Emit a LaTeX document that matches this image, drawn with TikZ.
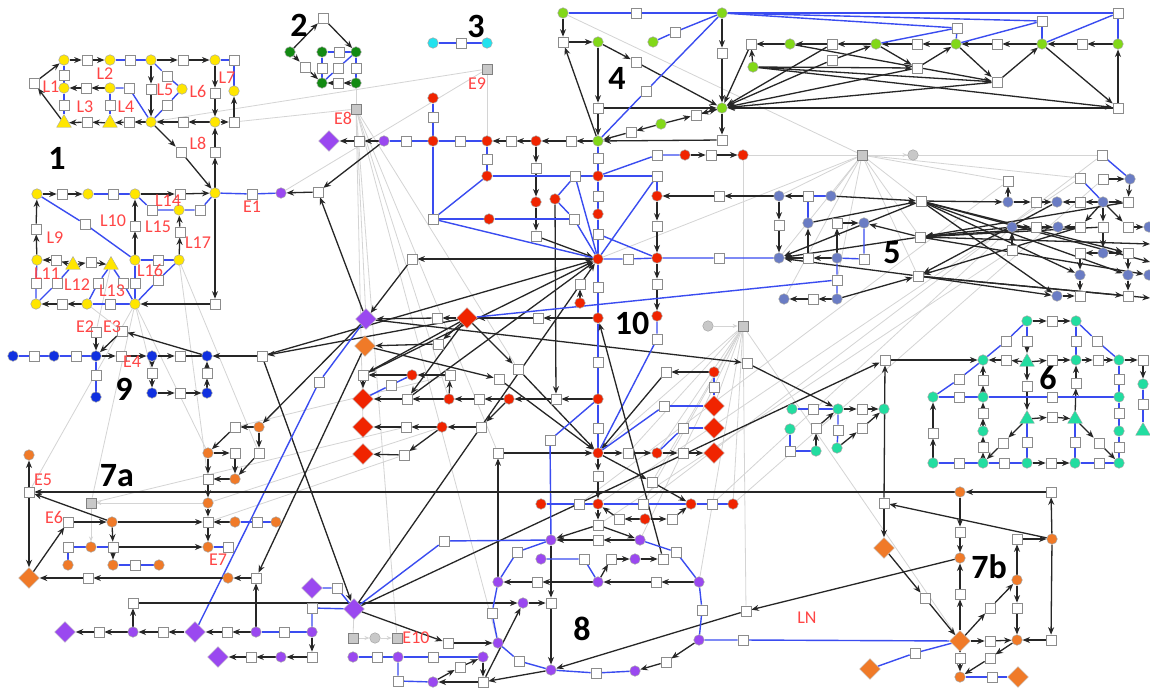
\documentclass[tikz,border=0pt]{standalone}
\usepackage{fontspec}
\setmainfont{Carlito}
\usetikzlibrary{arrows.meta,shapes.geometric}
\definecolor{yel}{HTML}{FFE600}
\definecolor{dgr}{HTML}{128A12}
\definecolor{cya}{HTML}{22E2EE}
\definecolor{lim}{HTML}{82D818}
\definecolor{rdc}{HTML}{F02400}
\definecolor{pur}{HTML}{9A48F0}
\definecolor{org}{HTML}{F07A28}
\definecolor{blu}{HTML}{1030E0}
\definecolor{slt}{HTML}{6A7CC4}
\definecolor{tea}{HTML}{22DDA0}
\definecolor{eblu}{HTML}{3A4CF0}
\definecolor{labred}{HTML}{FF4545}
\definecolor{gfill}{HTML}{C8C8C8}
\pgfdeclarelayer{back}\pgfdeclarelayer{gry}\pgfdeclarelayer{edg}
\pgfsetlayers{back,gry,edg,main}
\tikzset{
  sq/.style={rectangle,draw=black!45,fill=white,minimum size=10pt,inner sep=0pt,line width=0.7pt},
  gsq/.style={sq,fill=gfill,draw=black!50},
  cn/.style={circle,draw=black!35,minimum size=10.5pt,inner sep=0pt,line width=0.5pt},
  dm/.style={diamond,minimum size=21pt,inner sep=0pt,draw=black!25,line width=0.4pt},
  tri/.style={regular polygon,regular polygon sides=3,minimum size=17pt,inner sep=0pt,draw=black!35,line width=0.4pt},
  bl/.style={draw=eblu,line width=1.4pt},
  ar/.style={draw=black!85,line width=1.3pt,-{Stealth[length=7.5pt,width=6pt]}},
  arn/.style={draw=black!85,line width=1.3pt},
  gr/.style={draw=black!17,line width=0.8pt},
  gra/.style={gr,-{Stealth[length=5pt,width=4pt]}},
  lab/.style={text=labred,font=\fontsize{18}{18}\selectfont,inner sep=0pt},
  num/.style={font=\fontsize{34}{34}\selectfont\bfseries,inner sep=0pt},
}
\newcommand\putQ[3]{\node[sq] (#1) at (#2,#3) {};}
\newcommand\putG[3]{\node[gsq] (#1) at (#2,#3) {};}
\newcommand\putC[4]{\node[cn,fill=#4] (#1) at (#2,#3) {};}
\newcommand\putD[4]{\node[dm,fill=#4] (#1) at (#2,#3) {};}
\newcommand\putT[4]{\node[tri,fill=#4] (#1) at (#2,#3) {};}
\begin{document}
\begin{tikzpicture}[x=1pt,y=-1pt]
\begin{pgfonlayer}{back}
\fill[white] (0,0) rectangle (1150,688);
\end{pgfonlayer}
\useasboundingbox (0,0) rectangle (1150,688);

% ---------- network 1 (yellow) ----------
\putC{y1}{64}{60}{yel} \putQ{s1}{87}{60} \putC{y2}{110}{60}{yel} \putQ{s2}{130}{60}
\putC{y3}{151}{60}{yel} \putQ{s3}{183}{60} \putC{y4}{215}{60}{yel} \putQ{s4}{234}{60}
\putQ{s5}{34}{83}
\putQ{s6}{64}{75} \putC{y5}{64}{88}{yel} \putQ{s7}{86}{88} \putC{y6}{110}{88}{yel} \putQ{s8}{129}{88} \putQ{s9}{64}{105}
\putT{t1}{64}{123}{yel} \putQ{s10}{87}{122} \putT{t2}{110}{123}{yel} \putQ{s11}{129}{122}
\putC{y7}{151}{122}{yel} \putQ{s12}{183}{122} \putC{y8}{215}{122}{yel} \putQ{s13}{234}{122}
\putQ{s14}{151}{89} \putQ{s15}{167}{76} \putC{y9}{182}{89}{yel} \putQ{s16}{167}{105}
\putQ{s17}{215}{93} \putC{y10}{234}{91}{yel} \putQ{s18}{110}{105}
\putQ{s19}{181}{152} \putQ{s20}{215}{152} \putC{y11}{215}{193}{yel}
\putC{z1}{37}{194}{yel} \putQ{s21}{62}{194} \putC{z2}{88}{194}{yel} \putQ{s22}{113}{194} \putC{z3}{135}{194}{yel}
\putQ{s23}{180}{194} \putQ{s24}{252}{194} \putC{p1}{281}{193}{pur} \putQ{s25}{318}{192}
\putQ{s26}{152}{210} \putC{z4}{179}{210}{yel} \putQ{s27}{200}{210}
\putQ{s28}{180}{232} \putC{z5}{179}{260}{yel}
\putQ{s29}{85}{224} \putC{z6}{135}{260}{yel} \putQ{s30}{135}{226}
\putC{z7}{37}{260}{yel} \putQ{s31}{56}{260} \putT{t3}{73}{265}{yel} \putQ{s32}{91}{262} \putT{t4}{111}{265}{yel} \putQ{s33}{158}{260}
\putQ{s34}{36}{283} \putC{z8}{36}{304}{yel} \putQ{s35}{62}{304} \putC{z9}{87}{304}{yel} \putQ{s36}{110}{304}
\putC{z10}{135}{304}{yel} \putQ{s37}{215}{304}
\putQ{s38}{57}{283} \putQ{s39}{98}{283} \putQ{s40}{123}{283} \putQ{s41}{135}{283} \putQ{s42}{158}{280} \putQ{s43}{36}{229}

% ---------- network 9 (blue) ----------
\putC{b1}{13}{356}{blu} \putQ{s44}{34}{356} \putC{b2}{54}{356}{blu} \putQ{s45}{76}{356} \putC{b3}{96}{356}{blu}
\putQ{s46}{121}{356} \putC{b4}{152}{356}{blu} \putQ{s47}{180}{356} \putC{b5}{207}{356}{blu} \putQ{s48}{262}{356}
\putQ{e2}{96}{332} \putQ{e3}{122}{331}
\putQ{s49}{96}{375} \putC{b6}{96}{397}{blu}
\putQ{s50}{152}{373} \putC{b7}{152}{393}{blu} \putQ{s51}{180}{393} \putC{b8}{207}{393}{blu} \putQ{s52}{207}{373}

% ---------- networks 2 and 3 ----------
\putC{g1}{290}{52}{dgr} \putQ{s53}{323}{18} \putC{g2}{356}{52}{dgr} \putC{g3}{322}{52}{dgr} \putQ{s54}{339}{52}
\putC{g4}{322}{83}{dgr} \putC{g5}{356}{83}{dgr}
\putQ{s55}{305}{67} \putQ{s56}{322}{68} \putQ{s57}{338}{68} \putQ{s58}{356}{68} \putQ{s59}{338}{83}
\putG{e8}{356}{109} \putG{e9}{487}{69}
\putC{c1}{433}{43}{cya} \putQ{s60}{461}{43} \putC{c2}{487}{43}{cya}

% ---------- network 10 (red), upper part ----------
\putD{pd1}{329}{141}{pur} \putQ{s61}{359}{141} \putC{p2}{384}{141}{pur} \putQ{s62}{406}{141}
\putC{r1}{433}{141}{rdc} \putQ{s63}{460}{141} \putC{r2}{487}{141}{rdc} \putQ{s64}{511}{141}
\putC{r3}{536}{141}{rdc} \putQ{s65}{571}{141} \putC{L1}{598}{141}{lim} \putQ{s66}{722}{140}
\putC{r4}{433}{98}{rdc} \putQ{s67}{433}{117}
\putQ{s68}{487}{159} \putC{r5}{487}{176}{rdc}
\putQ{s69}{536}{168} \putC{r6}{536}{202}{rdc} \putQ{s70}{536}{236}
\putQ{s72}{433}{219} \putC{r7}{489}{219}{rdc} \putQ{s73}{574}{219}
\putQ{s74}{575}{176} \putC{r8}{598}{176}{rdc} \putQ{s75}{657}{176}
\putC{r9}{555}{199}{rdc}
\putQ{s76}{598}{158} \putQ{s77}{598}{196} \putC{r10}{598}{214}{rdc} \putQ{s78}{598}{234} \putC{H}{598}{259}{rdc}
\putQ{s79}{657}{155} \putC{r11}{685}{155}{rdc} \putQ{s80}{711}{155} \putC{r12}{743}{155}{rdc}
\putC{r13}{657}{196}{rdc} \putQ{s81}{719}{196}
\putQ{s82}{657}{226} \putC{r14}{657}{258}{rdc} \putQ{s83}{657}{284} \putC{r15}{657}{316}{rdc} \putQ{s84}{657}{339}
\putQ{s85}{628}{259} \putQ{s86}{719}{258}
\putQ{s87}{412}{259}
\putQ{s88}{598}{287} \putC{r16}{598}{318}{rdc}
\putD{rd1}{467}{318}{rdc} \putQ{s89}{538}{318} \putQ{s90}{437}{318}
\putD{pd2}{366}{319}{pur} \putD{od1}{365}{346}{org}
\putC{r17}{580}{303}{rdc} \putQ{s91}{580}{284}

% ---------- network 10, lower part ----------
\putQ{s93}{438}{344} \putQ{s94}{363}{375} \putC{r18}{412}{375}{rdc} \putQ{s95}{450}{375} \putQ{s96}{391}{385}
\putD{rd2}{363}{399}{rdc} \putD{rd3}{363}{427}{rdc} \putD{rd4}{363}{454}{rdc}
\putQ{s97}{407}{399} \putC{r19}{449}{399}{rdc} \putQ{s98}{479}{399} \putC{r20}{509}{399}{rdc} \putQ{s92}{556}{399} \putC{r21}{598}{399}{rdc}
\putQ{s99}{406}{427} \putC{r22}{442}{427}{rdc} \putQ{s100}{481}{427}
\putQ{s101}{404}{455}
\putQ{s102}{518}{369} \putQ{s103}{499}{379}
\putQ{s104}{666}{372} \putC{r23}{714}{372}{rdc} \putQ{s105}{714}{387} \putD{rd5}{714}{406}{rdc}
\putQ{s106}{664}{406} \putQ{s107}{683}{428} \putD{rd6}{714}{428}{rdc}
\putC{H2}{598}{453}{rdc} \putQ{s108}{628}{453} \putC{r24}{657}{453}{rdc} \putQ{s109}{683}{453} \putD{rd7}{714}{453}{rdc}
\putQ{s110}{498}{453} \putQ{s111}{550}{440}
\putQ{s112}{598}{428} \putQ{s113}{598}{362} \putQ{s114}{598}{476}
\putQ{s115}{319}{382} \putQ{s215}{747}{363}

% ---------- network 8 (purple) and lower red row ----------
\putC{r25}{541}{504}{rdc} \putQ{s116}{579}{504} \putC{r26}{598}{504}{rdc} \putQ{s117}{643}{504}
\putC{r27}{691}{504}{rdc} \putQ{s118}{712}{504} \putC{r28}{733}{504}{rdc}
\putQ{s120}{598}{525} \putQ{s121}{619}{519} \putC{r29}{645}{519}{rdc} \putQ{s122}{672}{519} \putQ{s123}{652}{482}
\putC{p3}{551}{540}{pur} \putQ{s124}{598}{540} \putC{p4}{640}{540}{pur} \putQ{s125}{444}{541}
\putQ{s126}{517}{552} \putC{p5}{498}{582}{pur} \putQ{s127}{676}{552} \putC{p6}{699}{582}{pur}
\putC{p7}{541}{559}{pur} \putQ{s128}{584}{559} \putC{p8}{598}{582}{pur} \putQ{s129}{611}{559} \putC{p9}{635}{559}{pur} \putQ{s130}{663}{559}
\putQ{s131}{537}{582} \putQ{s132}{656}{582}
\putQ{s133}{551}{603} \putC{p10}{551}{670}{pur} \putC{p11}{523}{603}{pur} \putQ{s134}{133}{603}
\putC{p12}{498}{643}{pur} \putQ{s135}{448}{643}
\putQ{s136}{492}{613} \putQ{s137}{519}{661} \putQ{s138}{596}{673} \putC{p13}{635}{671}{pur} \putQ{s139}{666}{662}
\putC{p14}{699}{640}{pur} \putQ{s140}{702}{610} \putQ{s141}{743}{640}
\putQ{s142}{746}{611}
\putC{p15}{483}{657}{pur} \putQ{s143}{433}{657} \putC{p16}{353}{657}{pur} \putQ{s144}{377}{657} \putC{p17}{398}{657}{pur}
\putQ{s145}{398}{681} \putC{p18}{433}{682}{pur} \putQ{s146}{483}{682} \putQ{s147}{460}{667}
\putG{gs1}{353}{638} \putC{gc1}{375}{638}{gfill} \putG{gs2}{397}{638}

% ---------- purple feeders, lower left ----------
\putD{pd5}{65}{632}{pur} \putQ{s160}{99}{632} \putC{p19}{133}{632}{pur} \putQ{s161}{163}{632} \putD{pd3}{195}{632}{pur}
\putQ{s162}{227}{632} \putC{p20}{256}{632}{pur} \putQ{s163}{284}{632} \putC{p21}{312}{632}{pur}
\putQ{s164}{312}{608} \putD{pd6}{312}{588}{pur} \putQ{s165}{337}{588} \putD{pd4}{354}{609}{pur}
\putQ{s166}{312}{657} \putC{p22}{281}{657}{pur} \putQ{s167}{251}{657} \putD{pd7}{218}{657}{pur}

% ---------- network 7a (orange) ----------
\putC{oc1}{29}{455}{org} \putQ{e5}{29}{492} \putG{gs3}{91}{503} \putQ{e6}{68}{522} \putC{oc2}{112}{522}{org}
\putQ{s148}{208}{522} \putC{oc3}{235}{522}{org} \putQ{s149}{257}{522} \putC{oc4}{276}{522}{org}
\putQ{s150}{68}{547} \putC{oc5}{91}{547}{org} \putQ{s151}{113}{547} \putC{oc6}{68}{565}{org} \putC{oc7}{208}{547}{org}
\putQ{s152}{228}{547} \putC{oc8}{113}{565}{org} \putQ{s153}{135}{565} \putC{oc9}{159}{565}{org}
\putD{od2}{29}{578}{org} \putQ{s154}{88}{578} \putC{oc10}{228}{578}{org} \putQ{s155}{256}{578}
\putQ{s156}{235}{427} \putC{oc11}{259}{427}{org} \putC{oc12}{208}{453}{org} \putQ{s157}{235}{453} \putQ{s158}{259}{453}
\putC{oc13}{235}{479}{org} \putQ{s159}{208}{479} \putC{oc14}{208}{503}{org}

% ---------- network 7b (orange) ----------
\putC{oc15}{960}{492}{org} \putQ{s253}{1051}{492} \putC{oc16}{1052}{539}{org} \putQ{s254}{1017}{539}
\putQ{s255}{960}{532} \putC{oc17}{960}{558}{org} \putC{oc18}{1017}{580}{org} \putQ{s256}{1017}{608} \putC{oc19}{1017}{640}{org}
\putD{od4}{960}{641}{org} \putQ{s257}{960}{594} \putQ{s258}{990}{608} \putQ{s259}{990}{641} \putQ{s260}{1051}{640}
\putQ{s261}{960}{658} \putC{oc20}{960}{677}{org} \putQ{s262}{990}{658} \putQ{s263}{992}{677} \putD{od5}{1018}{677}{org}
\putQ{s264}{915}{653} \putD{od6}{870}{669}{org} \putQ{s265}{925}{598}
\putQ{s884}{884}{503} \putD{od3}{884}{548}{org} \putQ{s885}{885}{360}

% ---------- network 6 (teal) ----------
\putC{tc1}{1027}{321}{tea} \putQ{s216}{1052}{321} \putC{tc2}{1076}{321}{tea}
\putC{tc3}{983}{360}{tea} \putQ{s217}{1006}{360} \putT{tr1}{1027}{362}{tea} \putQ{s218}{1052}{360} \putC{tc4}{1076}{360}{tea}
\putQ{s219}{1098}{360} \putC{tc5}{1119}{360}{tea} \putQ{s220}{1143}{360}
\putC{tc6}{1143}{384}{tea} \putQ{s221}{1143}{404} \putT{tr2}{1143}{431}{tea}
\putQ{s222}{1006}{341} \putQ{s223}{959}{379} \putC{tc7}{933}{397}{tea} \putQ{s224}{1097}{341} \putQ{s225}{1027}{341} \putQ{s226}{1076}{341}
\putQ{s227}{959}{397} \putC{tc8}{983}{397}{tea} \putQ{s228}{1052}{397} \putC{tc9}{1119}{397}{tea}
\putQ{s229}{983}{380} \putQ{s230}{983}{413} \putC{tc10}{983}{431}{tea} \putQ{s231}{983}{447} \putC{tc11}{983}{463}{tea}
\putQ{s232}{1027}{386} \putT{tr3}{1027}{419}{tea} \putQ{s233}{1027}{442} \putC{tc12}{1027}{463}{tea}
\putQ{s234}{1076}{383} \putT{tr4}{1075}{419}{tea} \putQ{s235}{1052}{417} \putQ{s236}{1075}{442} \putC{tc13}{1075}{463}{tea}
\putQ{s237}{1119}{379} \putQ{s238}{1119}{413} \putC{tc14}{1119}{431}{tea} \putQ{s239}{1119}{447} \putC{tc15}{1119}{463}{tea}
\putQ{s240}{933}{433} \putC{tc16}{933}{463}{tea} \putQ{s241}{959}{463} \putQ{s242}{1004}{463} \putQ{s243}{1051}{463} \putQ{s244}{1099}{463}
\putQ{s245}{1003}{443} \putQ{s246}{1099}{443}
\putC{tc17}{792}{409}{tea} \putQ{s247}{813}{409} \putC{tc18}{838}{409}{tea} \putQ{s248}{862}{409} \putC{tc19}{884}{409}{tea}
\putC{tc20}{790}{429}{tea} \putQ{s249}{790}{451} \putC{tc21}{816}{451}{tea} \putQ{s250}{816}{428} \putC{tc22}{837}{448}{tea}
\putQ{s251}{838}{430} \putQ{s252}{862}{428}

% ---------- network 5 (slate) ----------
\putC{sc1}{779}{196}{slt} \putQ{s168}{808}{196} \putC{sc2}{831}{196}{slt} \putQ{s169}{921}{201}
\putQ{s170}{779}{225} \putC{sc3}{779}{258}{slt}
\putC{sc4}{808}{223}{slt} \putQ{s171}{837}{223} \putC{sc5}{864}{223}{slt} \putQ{s172}{864}{259} \putC{sc6}{837}{258}{slt} \putQ{s173}{808}{258}
\putQ{s174}{837}{280} \putC{sc7}{837}{299}{slt} \putQ{s175}{813}{299} \putC{sc8}{784}{299}{slt}
\putQ{s176}{920}{237} \putQ{s177}{918}{276}
\putC{sc9}{1008}{202}{slt} \putQ{s178}{1008}{181} \putQ{s179}{1036}{202} \putC{sc10}{1057}{202}{slt} \putQ{s180}{1080}{202}
\putC{sc11}{1103}{202}{slt} \putQ{s181}{1128}{202}
\putC{sc12}{1012}{227}{slt} \putQ{s182}{1036}{227} \putC{sc13}{1058}{227}{slt} \putQ{s183}{1080}{227} \putQ{s184}{1103}{227}
\putQ{s185}{1128}{227} \putC{sc14}{1149}{227}{slt}
\putQ{s186}{1012}{250} \putQ{s187}{1080}{253} \putC{sc15}{1103}{253}{slt} \putQ{s188}{1128}{253}
\putC{sc16}{1080}{275}{slt} \putC{sc17}{1128}{275}{slt} \putC{sc18}{1149}{275}{slt}
\putC{sc19}{1057}{296}{slt} \putQ{s189}{1080}{296} \putQ{s190}{1128}{296}
\putQ{s191}{1080}{178} \putQ{s192}{1103}{179} \putC{sc20}{1130}{179}{slt} \putQ{s193}{1102}{155}
\coordinate (R1) at (1150,262); \coordinate (R2) at (1150,298); \coordinate (R3) at (1150,244);

% ---------- network 4 (lime) ----------
\putC{lg7}{563}{13}{lim} \putQ{s206}{636}{13} \putC{lg8}{722}{13}{lim} \putQ{s207}{563}{42} \putC{lg9}{598}{42}{lim}
\putC{lg10}{653}{42}{lim} \putQ{s208}{675}{32} \putQ{s209}{636}{62} \putC{H4}{722}{108}{lim} \putQ{s210}{598}{108}
\putQ{s211}{646}{91} \putQ{s212}{631}{132} \putC{lg11}{661}{124}{lim} \putQ{s213}{696}{115} \putQ{s214}{722}{53}
\putQ{s194}{751}{44} \putC{lg1}{790}{44}{lim} \putQ{s195}{832}{44} \putC{lg2}{753}{67}{lim} \putQ{s196}{832}{60}
\putC{lg3}{876}{44}{lim} \putQ{s197}{917}{44} \putC{lg4}{956}{44}{lim} \putQ{s198}{997}{44} \putC{lg5}{1042}{44}{lim}
\putQ{s199}{1082}{44} \putC{lg6}{1118}{44}{lim}
\putQ{s200}{957}{28} \putQ{s201}{1042}{21} \putQ{s202}{1118}{13}
\putQ{s203}{917}{68} \putQ{s204}{997}{82} \putQ{s205}{1118}{108}

% ---------- grey switching points ----------
\putG{gs4}{862}{155} \putC{gc2}{913}{155}{gfill}
\putG{gs5}{743}{326} \putC{gc3}{708}{326}{gfill}

% ---------- labels ----------
\node[lab] (lL1) at (51,87) {L1};   \node[lab] (lL2) at (105,74) {L2};
\node[lab] (lL3) at (85,107) {L3};  \node[lab] (lL4) at (126,107) {L4};
\node[lab] (lL5) at (165,90) {L5};  \node[lab] (lL6) at (198,91) {L6};
\node[lab] (lL7) at (227,78) {L7};  \node[lab] (lL8) at (198,143) {L8};
\node[lab] (lL9) at (55,238) {L9};  \node[lab] (lL10) at (113,221) {L10};
\node[lab] (lL11) at (47,274) {L11}; \node[lab] (lL12) at (77,285) {L12};
\node[lab] (lL13) at (112,291) {L13}; \node[lab] (lL14) at (168,201) {L14};
\node[lab] (lL15) at (158,227) {L15}; \node[lab] (lL16) at (150,270) {L16};
\node[lab] (lL17) at (198,243) {L17};
\node[lab] (lE1) at (252,207) {E1};  \node[lab] (lE2) at (85,327) {E2};
\node[lab] (lE3) at (112,327) {E3};  \node[lab] (lE4) at (132,362) {E4};
\node[lab] (lE5) at (43,480) {E5};   \node[lab] (lE6) at (54,517) {E6};
\node[lab] (lE7) at (218,560) {E7};  \node[lab] (lE8) at (343,118) {E8};
\node[lab] (lE9) at (477,84) {E9};   \node[lab] (lE10) at (416,638) {E10};
\node[lab] (lLN) at (807,618) {LN};
\node[num] (n1) at (57,158) {1};   \node[num] (n2) at (299,25) {2};
\node[num] (n3) at (476,26) {3};   \node[num] (n4) at (617,78) {4};
\node[num] (n5) at (892,253) {5};  \node[num] (n6) at (1048,378) {6};
\node[num] (n7a) at (117,476) {7a}; \node[num] (n7b) at (989,567) {7b};
\node[num] (n8) at (582,629) {8};  \node[num] (n9) at (124,389) {9};
\node[num] (n10) at (632,323) {10};

% ---------- light grey links ----------
\begin{pgfonlayer}{gry}
\foreach \u/\v in {e8/g5,e8/s13,e8/pd2,e8/r19,e8/s102,e8/gs2,e8/s110,e8/p12,e8/rd3,
  e9/y7,e9/r2,e9/p1,
  gs4/lg7,gs4/r12,gs4/sc1,gs4/sc3,gs4/s169,gs4/s176,gs4/s177,gs4/sc8,gs4/s178,gs4/s191,gs4/H,gs4/s174,gs4/s193,gs4/sc2,
  gs5/r12,gs5/H2,gs5/r28,gs5/p4,gs5/s117,gs5/od4,gs5/s123,gs5/rd5,gs5/s108,gs5/p6,gs5/r24,gs5/s142,
  s178/s116,s191/r26,s186/s120,s193/s117,sc12/s118,s192/r28,
  z10/e5,z10/gs3,z10/oc12,z5/s158,z5/s159,t4/e2,z9/e3,z10/s50,
  s101/s148,s99/gs3,gs1/pd4,s95/s156,r22/oc14}
  \draw[gr] (\u)--(\v);
\foreach \u/\v in {gs4/gc2,gc3/gs5,oc14/gs3,gs3/oc5,gs1/gc1,gc1/gs2}
  \draw[gra] (\u)--(\v);
\end{pgfonlayer}

% ---------- lines and arrows ----------
\begin{pgfonlayer}{edg}
% network 1
\foreach \u/\v in {y1/s1,s1/y2,y3/s3,s3/y4,y3/s14,s14/y7,y4/s17,s17/y8,y8/s12,s12/y7,y7/s11,s11/t2,
  t2/s10,s10/t1,y6/s7,s7/y5,t1/s5,s5/y1,y7/s19,s19/y11,y11/s20,s20/y8,y8/s13,s13/y10,
  z1/s21,s21/z2,z3/s23,s23/y11,y11/s37,s37/z10,z9/s35,s35/z8,z7/s43,s43/z1,z5/s28,s28/z4,
  z6/s30,s30/z3,s25/p1,t3/s31,s31/z7,t3/s32,s32/t4}
  \draw[ar] (\u)--(\v);
\draw[bl] (y2)--(s2)--(y3); \draw[bl] (y4)--(s4)--(y10);
\draw[bl] (y1)--(s6)--(y5)--(s9)--(t1); \draw[bl] (y6)--(s8)--(y7);
\draw[bl] (y6)--(s18)--(t2); \draw[bl] (y3)--(s15)--(y9)--(s16)--(y7);
\draw[bl] (z2)--(s22)--(z3); \draw[bl] (y11)--(s24)--(p1);
\draw[bl] (z3)--(s26)--(z4)--(s27)--(y11); \draw[bl] (z1)--(s29)--(z6);
\draw[bl] (z6)--(s33)--(z5); \draw[bl] (z7)--(s34)--(z8); \draw[bl] (z8)--(s38)--(t3);
\draw[bl] (t4)--(s39)--(z9); \draw[bl] (t4)--(s40)--(z10); \draw[bl] (z9)--(s36)--(z10);
\draw[bl] (z6)--(s41)--(z10); \draw[bl] (z5)--(s42)--(z10);
% network 9
\foreach \u/\v in {b3/s46,s46/b4,b4/s47,s48/b5,b4/s50,s50/b7,b7/s51,s51/b8,b8/s52,s52/b5,
  e2/b3,e3/b3,b5/e3}
  \draw[ar] (\u)--(\v);
\draw[arn] (s47)--(b5);
\draw[bl] (b1)--(s44)--(b2)--(s45)--(b3)--(s49)--(b6);
% networks 2 and 3
\foreach \u/\v in {g1/s53,s53/g2,g1/s55,s55/g4,g5/s59,s59/g4}
  \draw[ar] (\u)--(\v);
\draw[bl] (g3)--(s54)--(g2); \draw[bl] (g3)--(s56)--(g4);
\draw[bl] (g4)--(s57)--(g2); \draw[bl] (g2)--(s58)--(g5);
\draw[bl] (c1)--(s60)--(c2);
% network 10, upper part
\foreach \u/\v in {p2/s61,s61/pd1,r3/s64,s64/r2,L1/s65,s65/r3,s66/L1,r3/s69,s69/r6,r6/s70,s70/H,
  p2/s25,pd2/s25,H/s87,s87/pd2,r16/s89,s89/rd1,rd1/s90,s90/pd2,r17/s91,s81/r13,r13/s82,
  s82/r14,r14/s83,s83/r15,r11/s80,s80/r12,r9/s92,sc1/s81}
  \draw[ar] (\u)--(\v);
\draw[bl] (p2)--(s62)--(r1)--(s63)--(r2); \draw[bl] (r4)--(s67)--(r1)--(s72);
\draw[bl] (r2)--(s68)--(r5); \draw[bl] (s72)--(r5); \draw[bl] (s72)--(r7)--(s73);
\draw[bl] (s72)--(H); \draw[bl] (r5)--(s74)--(r8)--(s75); \draw[bl] (s75)--(r13);
\draw[bl] (r9)--(s74); \draw[bl] (r9)--(s73); \draw[bl] (s74)--(H); \draw[bl] (s73)--(H);
\draw[bl] (L1)--(s76)--(r8)--(s77)--(r10)--(s78)--(H);
\draw[bl] (r8)--(s79)--(r11); \draw[bl] (H)--(s85)--(r14)--(s86)--(sc3);
\draw[bl] (H)--(s75); \draw[bl] (s78)--(r14); \draw[bl] (H)--(s88)--(r16);
% network 10, lower part
\foreach \u/\v in {rd1/s93,s93/od1,r18/s94,s94/rd2,s95/r18,r19/s95,r21/s92,s92/r20,r20/s98,
  s98/r19,r19/s97,s97/rd2,r20/s100,s100/r22,r22/s99,s99/rd3,r22/s101,s101/rd4,rd1/s102,
  s102/H2,od1/s103,s103/H2,r23/s104,s104/H2,s110/H2,H2/s108,s108/r24,r24/s109,s109/rd7,
  H2/s114,rd1/s94,rd1/s97,s97/H,s94/H,s48/H,rd1/s48,pd2/s215,s215/tc18,p5/s110,
  pd4/H,pd4/s885,s48/pd4,od1/s155,pd2/oc11}
  \draw[ar] (\u)--(\v);
\draw[bl] (r18)--(s96)--(rd2); \draw[bl] (r23)--(s105)--(rd5); \draw[bl] (s106)--(rd5);
\draw[bl] (s106)--(H2); \draw[bl] (s107)--(rd6); \draw[bl] (s107)--(r24);
\draw[bl] (s111)--(r21); \draw[bl] (s111)--(p3);
\draw[bl] (H2)--(s112)--(r21)--(s113)--(r16); \draw[bl] (r15)--(s84)--(H2);
\draw[bl] (rd1)--(s174); \draw[bl] (pd3)--(s115)--(pd2);
% network 8
\foreach \u/\v in {s114/r26,r26/s120,s120/p3,s120/p4,p4/s124,s124/p3,r29/s121,s121/r26,r29/s122,
  s122/r27,s123/r27,H2/s123,p8/s129,s129/p9,p9/s130,s130/r16,p3/s133,s133/p10,p11/s133,
  s134/p11,s135/p12,pd4/s135,p6/s132,s132/p8,p8/s131,s131/p5,p14/s139,s139/p13,s142/p10,
  oc17/s142,p18/s147,s147/p15,p15/s146,s146/p18,p10/s146,s146/p11}
  \draw[ar] (\u)--(\v);
\draw[bl] (r25)--(s116)--(r26)--(s117)--(r27)--(s118)--(r28);
\draw[bl] (s125)--(p3); \draw[bl] (pd4)--(s125); \draw[bl] (p3)--(s126)--(p5);
\draw[bl] (p4)--(s127)--(p6); \draw[bl] (p7)--(s128)--(p8);
\draw[bl] (p5)--(s136)--(p12)--(s137)--(p10)--(s138)--(p13);
\draw[bl] (p14)--(s140)--(p6); \draw[bl] (p14)--(s141)--(od4);
\draw[bl] (p16)--(s144)--(p17)--(s143)--(p15); \draw[bl] (p17)--(s145)--(p18);
% purple feeders, lower left
\foreach \u/\v in {p20/s162,s162/pd3,pd3/s161,s161/p19,p19/s160,s160/pd5,p19/s134,p20/s155,
  p21/s166,s166/p22,p22/s167,s167/pd7}
  \draw[ar] (\u)--(\v);
\draw[bl] (p20)--(s163)--(p21); \draw[bl] (p21)--(s164)--(pd4); \draw[bl] (pd6)--(s165)--(pd4);
% network 7a
\foreach \u/\v in {e5/oc1,e5/od2,od2/e6,e6/oc2,oc2/e5,oc2/s148,oc3/s148,oc2/s151,s151/oc7,s151/oc8,
  s155/oc10,oc10/s154,s154/od2,oc11/s156,s156/oc12,oc11/s158,s158/oc13,oc12/s157,s157/oc13,
  oc12/s159,oc13/s159,s159/oc14,oc14/s148,s148/oc7,oc15/e5}
  \draw[ar] (\u)--(\v);
\draw[bl] (oc3)--(s149)--(oc4); \draw[bl] (s150)--(oc5)--(s151); \draw[bl] (s150)--(oc6);
\draw[bl] (oc8)--(s153)--(oc9); \draw[bl] (oc7)--(s152);
% network 7b
\foreach \u/\v in {s253/oc15,oc16/s253,oc16/s884,s884/od3,s884/s885,od3/s265,s265/od4,oc15/s255,
  s255/oc17,od4/s257,s257/oc17,od4/s258,s258/oc18,s254/oc16,oc18/s254,oc18/s256,s256/oc19,
  od4/s259,s259/oc19,s260/oc19,oc16/s260,od4/s261,s261/oc20,oc19/s262,s262/oc20}
  \draw[ar] (\u)--(\v);
\draw[bl] (oc20)--(s263)--(od5); \draw[bl] (od4)--(s264)--(od6);
% network 6
\foreach \u/\v in {tc1/s216,s216/tc2,s885/tc3,tr1/s217,s217/tc3,tr1/s218,s218/tc4,tc4/s219,s219/tc5,
  tc5/s220,s220/tc6,tc11/s231,s231/tc10,tc10/s230,s230/tc8,tc8/s229,s229/tc3,tr1/s232,s232/tr3,
  tr3/s235,s235/tr4,tr4/s234,s234/tc4,tc16/s240,s240/tc7,tc12/s243,s243/tc13,tr3/s245,s245/tc11,
  tr4/s246,s246/tc15,s225/tr1,
  tc18/s248,s248/tc19,tc21/s250,s250/tc18,tc22/s252,s252/tc19}
  \draw[ar] (\u)--(\v);
\draw[bl] (tc1)--(s222)--(tc3)--(s223)--(tc7); \draw[bl] (tc2)--(s224)--(tc5);
\draw[bl] (tc1)--(s225); \draw[bl] (tc2)--(s226)--(tc4); \draw[bl] (tc6)--(s221)--(tr2);
\draw[bl] (tc7)--(s227)--(tc8)--(s228)--(tc9); \draw[bl] (tr3)--(s233)--(tc12);
\draw[bl] (tr4)--(s236)--(tc13); \draw[bl] (tc5)--(s237)--(tc9)--(s238)--(tc14)--(s239)--(tc15);
\draw[bl] (tc16)--(s241)--(tc11)--(s242)--(tc12); \draw[bl] (tc13)--(s244)--(tc15);
\draw[bl] (tc17)--(s247)--(tc18); \draw[bl] (tc20)--(s249)--(tc21); \draw[bl] (tc18)--(s251)--(tc22);
% network 5
\foreach \u/\v in {s168/sc1,sc1/s170,s170/sc3,s171/sc5,sc6/s173,s173/sc3,sc6/s171,s173/sc4,
  sc7/s175,s175/sc8,sc2/s169,sc4/s169,s169/sc3,s176/sc3,s177/sc3,s176/sc5,sc7/s177,
  s169/sc9,sc9/s178,sc9/s179,s179/sc10,s180/sc10,sc11/s180,sc11/s181,s192/sc20,sc20/s181,
  sc12/s182,s182/sc13,s183/sc13,sc11/s183,sc11/s185,s185/sc14,sc11/s184,s184/sc15,
  sc15/s187,sc15/s188,s187/sc16,s188/sc17,sc16/s189,sc17/s190,sc19/s189,s186/sc12,
  s169/sc19,s169/sc16,s169/sc17,s169/R1,sc12/s176,s184/s176,sc13/s176,s176/sc18,
  s177/sc19,s177/s190,s177/R2,sc10/s177,s183/s177,s176/R3,s181/s176,s169/s188}
  \draw[ar] (\u)--(\v);
\draw[bl] (sc2)--(s168)--(sc4); \draw[bl] (sc5)--(s172)--(sc6)--(s174)--(sc7);
\draw[bl] (s191)--(sc11); \draw[bl] (s193)--(sc20);
% network 4
\foreach \u/\v in {lg7/s207,s207/lg9,L1/s207,lg9/s209,s209/H4,lg9/s210,s210/L1,s210/H4,
  lg11/s212,s212/L1,lg11/s213,s213/H4,H4/s213,lg8/s214,s214/H4,H4/s66,
  s195/lg1,lg1/s194,lg2/s194,s194/H4,lg3/s195,s197/lg3,lg4/s197,s198/lg4,lg5/s198,s199/lg5,
  lg6/s199,s205/lg6,lg3/s203,s203/lg4,lg4/s204,s204/lg5,lg5/s205,s196/lg3,
  s196/H4,s203/H4,s204/H4,s205/H4,lg2/s203,lg2/s204,lg2/s205,lg1/s204,s195/H4}
  \draw[ar] (\u)--(\v);
\draw[bl] (lg7)--(s206)--(lg8); \draw[bl] (lg10)--(s208)--(lg8); \draw[bl] (L1)--(s211)--(lg8);
\draw[bl] (lg8)--(s202); \draw[bl] (lg8)--(s201); \draw[bl] (lg8)--(s200);
\draw[bl] (s202)--(lg6); \draw[bl] (s202)--(lg5); \draw[bl] (s201)--(lg5); \draw[bl] (s201)--(lg4);
\draw[bl] (s200)--(lg4); \draw[bl] (s200)--(lg3);
\draw[bl] (L1)--(s76);
\end{pgfonlayer}
\end{tikzpicture}
\end{document}
